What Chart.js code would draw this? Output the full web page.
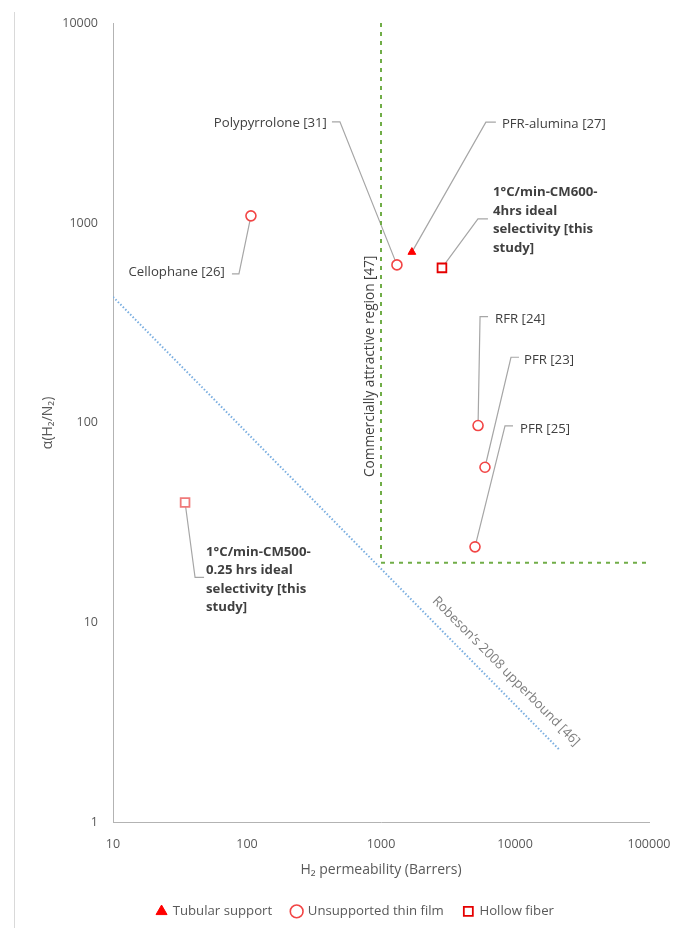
<!DOCTYPE html>
<html>
<head>
<meta charset="utf-8">
<script src="https://cdn.jsdelivr.net/npm/chart.js@4.4.1/dist/chart.umd.min.js"></script>
<style>
  html, body { margin: 0; padding: 0; background: #ffffff; }
  #wrap { width: 676px; height: 928px; position: relative; }
</style>
</head>
<body>
<div id="wrap"><canvas id="chart" width="676" height="928"></canvas></div>
<script>
// ---- Data ----------------------------------------------------------------
const seriesNames = ['Tubular support', 'Unsupported thin film', 'Hollow fiber'];

const tubularLabels = [['PFR-alumina [27]']];
const tubularPerm = [1700];
const tubularSel = [715];

const filmLabels = [['Cellophane [26]'], ['Polypyrrolone [31]'], ['RFR [24]'], ['PFR [23]'], ['PFR [25]']];
const filmPerm = [107, 1315, 5300, 5970, 5030];
const filmSel = [1085, 617, 97, 60, 24];

const fiberLabels = [
  ['1°C/min-CM600-', '4hrs ideal', 'selectivity [this', 'study]'],
  ['1°C/min-CM500-', '0.25 hrs ideal', 'selectivity [this', 'study]']
];
const fiberPerm = [2850, 34.5];
const fiberSel = [596, 40];

// Robeson 2008 H2/N2 upper bound, end points
const robesonPerm = [10, 21700];
const robesonSel = [427, 2.3];

// Commercially attractive region limits
const regionPermMin = 1000;
const regionSelMin = 20;

const xTickValues = [10, 100, 1000, 10000, 100000];
const yTickValues = [1, 10, 100, 1000, 10000];

const regionText = 'Commercially attractive region [47]';
const robesonText = 'Robeson\u2019s 2008 upperbound [46]';

// ---- Callout geometry (pixel offsets from each marker) -------------------
// dx/dy: elbow of the leader line, hook: horizontal stub, gap: stub to text,
// ty: vertical shift of the text block from the elbow.
const tubularCallouts = [{ dx: 74, dy: -130, hook: 10, gap: 6, ty: 2 }];
const filmCallouts = [
  { dx: -12, dy: 58, hook: -7, gap: 7, ty: -2 },
  { dx: -57, dy: -143, hook: -8, gap: 5, ty: 1 },
  { dx: 2, dy: -109, hook: 8, gap: 7, ty: 3 },
  { dx: 26, dy: -110, hook: 8, gap: 5, ty: 3 },
  { dx: 30, dy: -121, hook: 8, gap: 7, ty: 3 }
];
const fiberCallouts = [
  { dx: 36, dy: -49, hook: 10, gap: 5, ty: 1.5 },
  { dx: 10, dy: 75, hook: 9, gap: 2, ty: 2.5 }
];

const FONT = '"Open Sans", Lato, "DejaVu Sans", sans-serif';
const LABEL_SIZE = 13.2;
const TICK_SIZE = 12.5;
const TITLE_SIZE = 14;
const LINE_STEP = 18.5;

const toPoints = (xs, ys) => xs.map((x, i) => ({ x: x, y: ys[i] }));

const calloutPlugin = {
  id: 'callouts',
  afterLayout(chart) {
    // legend row sits a little right of the canvas centre
    const lg = chart.legend;
    if (lg) { lg.left += 24; lg.right += 24; }
  },
  beforeDraw(chart) {
    const ctx = chart.ctx;
    ctx.save();
    ctx.strokeStyle = '#d9d9d9';
    ctx.lineWidth = 1;
    ctx.beginPath();
    ctx.moveTo(14.5, 12);
    ctx.lineTo(14.5, chart.height);
    ctx.stroke();
    ctx.restore();
  },
  beforeDatasetsDraw(chart) {
    const ctx = chart.ctx;
    ctx.save();
    ctx.strokeStyle = '#a6a6a6';
    ctx.lineWidth = 1.2;
    this.groups(chart).forEach(g => {
      const meta = chart.getDatasetMeta(g.ds);
      g.geo.forEach((c, i) => {
        const p = meta.data[i];
        const ex = p.x + c.dx, ey = p.y + c.dy;
        ctx.beginPath();
        ctx.moveTo(p.x, p.y);
        ctx.lineTo(ex, ey);
        ctx.lineTo(ex + c.hook, ey);
        ctx.stroke();
      });
    });
    ctx.restore();
  },
  afterDatasetsDraw(chart) {
    const ctx = chart.ctx;
    ctx.save();
    ctx.fillStyle = '#404040';
    ctx.textBaseline = 'middle';
    this.groups(chart).forEach(g => {
      const meta = chart.getDatasetMeta(g.ds);
      ctx.font = (g.bold ? 'bold ' : '') + LABEL_SIZE + 'px ' + FONT;
      g.geo.forEach((c, i) => {
        const p = meta.data[i];
        const lines = g.labels[i];
        const ex = p.x + c.dx, ey = p.y + c.dy;
        const right = c.hook >= 0;
        ctx.textAlign = right ? 'left' : 'right';
        const tx = ex + c.hook + (right ? c.gap : -c.gap);
        const y0 = ey + c.ty - (lines.length - 1) * LINE_STEP / 2;
        lines.forEach((ln, k) => ctx.fillText(ln, tx, y0 + k * LINE_STEP));
      });
    });

    // Vertical label beside the commercial region boundary
    const xs = chart.scales.x, ys = chart.scales.y;
    ctx.font = '13.6px ' + FONT;
    ctx.fillStyle = '#404040';
    ctx.save();
    ctx.translate(xs.getPixelForValue(regionPermMin) - 11, ys.getPixelForValue(192));
    ctx.rotate(-Math.PI / 2);
    ctx.textAlign = 'center';
    ctx.fillText(regionText, 0, 0);
    ctx.restore();

    // Label running along the Robeson upper bound
    const rb = chart.getDatasetMeta(5).data;
    const a = Math.atan2(rb[1].y - rb[0].y, rb[1].x - rb[0].x);
    const t = 0.852;
    const cx = rb[0].x + (rb[1].x - rb[0].x) * t + Math.sin(a) * 17;
    const cy = rb[0].y + (rb[1].y - rb[0].y) * t - Math.cos(a) * 17;
    ctx.save();
    ctx.translate(cx, cy);
    ctx.rotate(a);
    ctx.textAlign = 'center';
    ctx.fillStyle = '#7f7f7f';
    ctx.font = '13.2px ' + FONT;
    ctx.fillText(robesonText, 0, 0);
    ctx.restore();
    ctx.restore();
  },
  groups() {
    return [
      { ds: 0, labels: tubularLabels, geo: tubularCallouts, bold: false },
      { ds: 1, labels: filmLabels, geo: filmCallouts, bold: false },
      { ds: 2, labels: fiberLabels, geo: fiberCallouts, bold: true }
    ];
  }
};

Chart.defaults.font.family = FONT;
Chart.defaults.font.size = TICK_SIZE;
Chart.defaults.color = '#595959';

const axisCommon = {
  type: 'logarithmic',
  grid: { display: false, drawTicks: false },
  border: { display: true, color: '#b3b3b3', width: 1 }
};

new Chart(document.getElementById('chart').getContext('2d'), {
  type: 'scatter',
  data: {
    datasets: [
      {
        label: seriesNames[0],
        data: toPoints(tubularPerm, tubularSel),
        pointStyle: 'triangle', pointRadius: 4.5,
        backgroundColor: '#ff0000', borderColor: '#ff0000', borderWidth: 1,
        order: 0
      },
      {
        label: seriesNames[1],
        data: toPoints(filmPerm, filmSel),
        pointStyle: 'circle', pointRadius: 5,
        backgroundColor: '#ffffff', borderColor: '#f24545', borderWidth: 1.6,
        order: 0
      },
      {
        label: seriesNames[2],
        data: toPoints(fiberPerm, fiberSel),
        pointStyle: 'rect', pointRadius: 6.2,
        backgroundColor: '#ffffff', borderColor: ['#e50000', '#f07a7a'], borderWidth: 1.8,
        order: 0
      },
      {
        label: 'region-x',
        data: [{ x: regionPermMin, y: 10000 }, { x: regionPermMin, y: regionSelMin }],
        showLine: true, pointRadius: 0, borderColor: '#70ad47', borderWidth: 2,
        borderDash: [4, 5], order: 1
      },
      {
        label: 'region-y',
        data: [{ x: regionPermMin, y: regionSelMin }, { x: 100000, y: regionSelMin }],
        showLine: true, pointRadius: 0, borderColor: '#70ad47', borderWidth: 2,
        borderDash: [4, 5], order: 1
      },
      {
        label: 'robeson',
        data: toPoints(robesonPerm, robesonSel),
        showLine: true, pointRadius: 0, borderColor: '#7aaee0', borderWidth: 2,
        borderDash: [1.5, 2], order: 1
      }
    ]
  },
  options: {
    responsive: false,
    animation: false,
    devicePixelRatio: 1,
    layout: { padding: { top: 23, right: 27, bottom: 0, left: 14 } },
    plugins: {
      legend: {
        position: 'bottom',
        labels: {
          usePointStyle: true, boxWidth: 9, boxHeight: 9, padding: 20,
          color: '#595959', font: { size: LABEL_SIZE },
          filter: item => item.datasetIndex < 3
        }
      },
      tooltip: { enabled: false }
    },
    scales: {
      x: Object.assign({}, axisCommon, {
        min: 10, max: 100000,
        afterBuildTicks: s => { s.ticks = xTickValues.map(v => ({ value: v })); },
        afterFit: s => { s.height = 62; s.paddingRight = 0; },
        ticks: { callback: v => String(v), padding: 14, autoSkip: false, maxRotation: 0, color: '#595959' },
        title: { display: true, text: 'H\u2082 permeability (Barrers)', color: '#595959', font: { size: TITLE_SIZE }, padding: { top: 0, bottom: 6.5 } }
      }),
      y: Object.assign({}, axisCommon, {
        min: 1, max: 10000,
        afterBuildTicks: s => { s.ticks = yTickValues.map(v => ({ value: v })); },
        afterFit: s => { s.width = 99; },
        ticks: { callback: v => String(v), padding: 15, autoSkip: false, color: '#595959' },
        title: { display: true, text: '\u03b1(H\u2082/N\u2082)', color: '#595959', font: { size: TITLE_SIZE }, padding: { top: 26, bottom: 0 } }
      })
    }
  },
  plugins: [calloutPlugin]
});
</script>
</body>
</html>
